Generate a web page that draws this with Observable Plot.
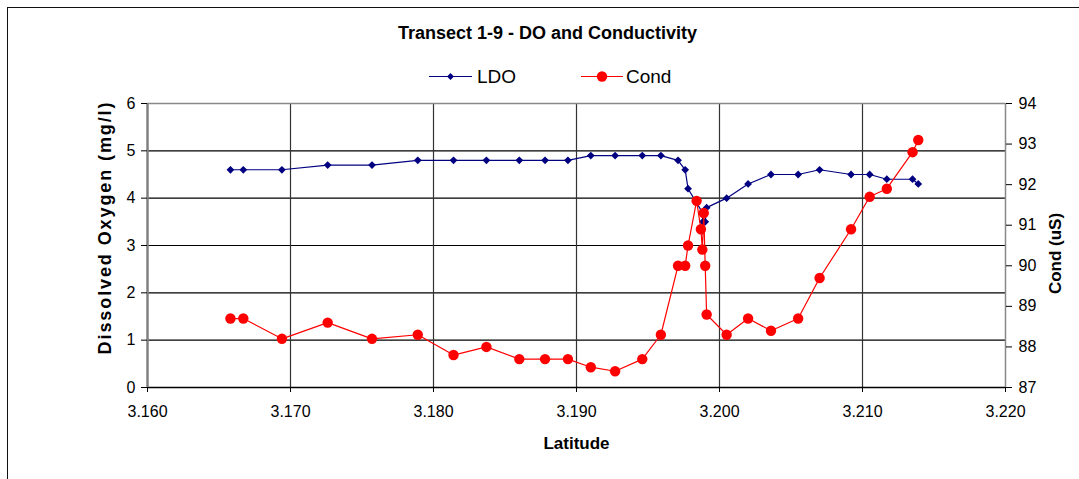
<!DOCTYPE html>
<html><head><meta charset="utf-8">
<script src="https://cdn.jsdelivr.net/npm/d3@7"></script>
<script src="https://cdn.jsdelivr.net/npm/@observablehq/plot@0.6"></script>
<style>
body{margin:0;background:#fff;font-family:"Liberation Sans",Arial,sans-serif;}
#wrap{position:relative;width:1079px;height:479px;overflow:hidden;}
#frame{position:absolute;left:7px;top:7px;width:1200px;height:600px;border-left:1.5px solid #111;border-top:1.5px solid #111;}
#title{position:absolute;left:0;width:1095px;top:24px;text-align:center;font-weight:bold;font-size:18px;line-height:18px;color:#000;}
#legend{position:absolute;left:0;top:0;}
#chart{position:absolute;left:0;top:95px;}
</style></head>
<body>
<div id="wrap">
  <div id="frame"></div>
  <div id="title">Transect 1-9 - DO and Conductivity</div>
  <svg id="legend" width="1079" height="95"></svg>
  <div id="chart"></div>
</div>
<script>
// ---- data ----
const seriesNames = ["LDO", "Cond"];
const ldoLat = [3.1658,3.1667,3.1694,3.1726,3.1757,3.1789,3.1814,3.1837,3.1860,3.1878,3.1894,3.1910,3.1927,3.1946,3.1959,3.1971,3.1976,3.1978,3.1988,3.19883,3.1990,3.1991,3.2005,3.2020,3.2036,3.2055,3.2070,3.2092,3.2105,3.2117,3.2135,3.2139];
const ldoVal = [4.6,4.6,4.6,4.7,4.7,4.8,4.8,4.8,4.8,4.8,4.8,4.9,4.9,4.9,4.9,4.8,4.6,4.2,3.7,3.5,3.5,3.8,4.0,4.3,4.5,4.5,4.6,4.5,4.5,4.4,4.4,4.3];
const condLat = [3.1658,3.1667,3.1694,3.1726,3.1757,3.1789,3.1814,3.1837,3.1860,3.1878,3.1894,3.1910,3.1927,3.1946,3.1959,3.1971,3.1976,3.1978,3.1984,3.1987,3.1988,3.1989,3.1990,3.1991,3.2005,3.2020,3.2036,3.2055,3.2070,3.2092,3.2105,3.2117,3.2135,3.2139];
const condVal = [88.7,88.7,88.2,88.6,88.2,88.3,87.8,88.0,87.7,87.7,87.7,87.5,87.4,87.7,88.3,90.0,90.0,90.5,91.6,90.9,90.4,91.3,90.0,88.8,88.3,88.7,88.4,88.7,89.7,90.9,91.7,91.9,92.8,93.1];
const xTicks = [3.16,3.17,3.18,3.19,3.20,3.21,3.22];
const yTicks = [0,1,2,3,4,5,6];
const condTicks = [87,88,89,90,91,92,93,94];
const condMin = 87, condMax = 94, yMax = 6;

const toY = c => (c - condMin) * yMax / (condMax - condMin);
const fromY = y => condMin + y * (condMax - condMin) / yMax;

const ldo = ldoLat.map((x, i) => ({lat: x, v: ldoVal[i]}));
const cond = condLat.map((x, i) => ({lat: x, v: condVal[i]}));

const FONT = '"Liberation Sans", Arial, sans-serif';

const chart = Plot.plot({
  width: 1079,
  height: 384,
  marginTop: 8,
  marginBottom: 92,
  marginLeft: 147,
  marginRight: 74,
  style: {fontFamily: FONT, fontSize: "16px", color: "#000", background: "transparent", overflow: "visible"},
  x: {domain: [3.16, 3.22]},
  y: {domain: [0, 6]},
  marks: [
    Plot.ruleY(yTicks.slice(1, -1), {stroke: "#000", strokeWidth: 1.2}),
    Plot.ruleX(xTicks.slice(1, -1), {stroke: "#333", strokeWidth: 1.2}),
    Plot.ruleY([6], {stroke: "#888", strokeWidth: 1.5}),
    Plot.ruleX([3.22], {stroke: "#888", strokeWidth: 1.5}),
    Plot.ruleY([0], {stroke: "#000", strokeWidth: 1.5}),
    Plot.ruleX([3.16], {stroke: "#808080", strokeWidth: 2.5}),
    Plot.axisX({ticks: xTicks, tickFormat: d3.format(".3f"), tickSize: 5, tickPadding: 13, label: null, fontSize: 16}),
    Plot.axisY({anchor: "left", ticks: yTicks, tickFormat: d => String(d), tickSize: 6, tickPadding: 6, label: null, fontSize: 16}),
    Plot.axisY({anchor: "right", ticks: condTicks.map(toY), tickFormat: d => String(Math.round(fromY(d))), tickSize: 6, tickPadding: 7, label: null, fontSize: 16}),
    Plot.text(["Latitude"], {frameAnchor: "bottom", dy: 61, fontWeight: "bold", fontSize: 17, fill: "#000", textAnchor: "middle"}),
    Plot.text(["Dissolved Oxygen (mg/l)"], {frameAnchor: "left", dx: -42, dy: -18, rotate: -90, textAnchor: "middle", fontWeight: "bold", fontSize: 18, fill: "#000", className: "ylab"}),
    Plot.text(["Cond (uS)"], {frameAnchor: "right", dx: 50, dy: 8, rotate: -90, textAnchor: "middle", fontWeight: "bold", fontSize: 17, fill: "#000"}),
    Plot.line(ldo, {x: "lat", y: "v", stroke: "#000080", strokeWidth: 1.2}),
    Plot.dot(ldo, {x: "lat", y: "v", symbol: "diamond2", r: 3.5, fill: "#000080", stroke: "none"}),
    Plot.line(cond, {x: "lat", y: d => toY(d.v), stroke: "#ff0000", strokeWidth: 1.2}),
    Plot.dot(cond, {x: "lat", y: d => toY(d.v), r: 5.2, fill: "#ff0000", stroke: "none"})
  ]
});
d3.select(chart).selectAll(".ylab text").style("letter-spacing", "1.9px");
document.getElementById("chart").appendChild(chart);

// ---- legend ----
const lg = d3.select("#legend");
const items = [
  {name: seriesNames[0], color: "#000080", x0: 429, x1: 472, tx: 477, sym: "diamond"},
  {name: seriesNames[1], color: "#ff0000", x0: 581, x1: 623, tx: 626, sym: "circle"}
];
items.forEach(it => {
  const y = 76.5;
  lg.append("line").attr("x1", it.x0).attr("x2", it.x1).attr("y1", y).attr("y2", y).attr("stroke", it.color).attr("stroke-width", 1.2);
  const cx = (it.x0 + it.x1) / 2;
  if (it.sym === "diamond") {
    lg.append("path").attr("d", `M${cx},${y-3.5}L${cx+3.5},${y}L${cx},${y+3.5}L${cx-3.5},${y}Z`).attr("fill", it.color);
  } else {
    lg.append("circle").attr("cx", cx).attr("cy", y).attr("r", 5.2).attr("fill", it.color);
  }
  lg.append("text").attr("x", it.tx).attr("y", 82.7).attr("font-size", 19).attr("font-family", FONT).attr("fill", "#000").text(it.name);
});
</script>
</body></html>
